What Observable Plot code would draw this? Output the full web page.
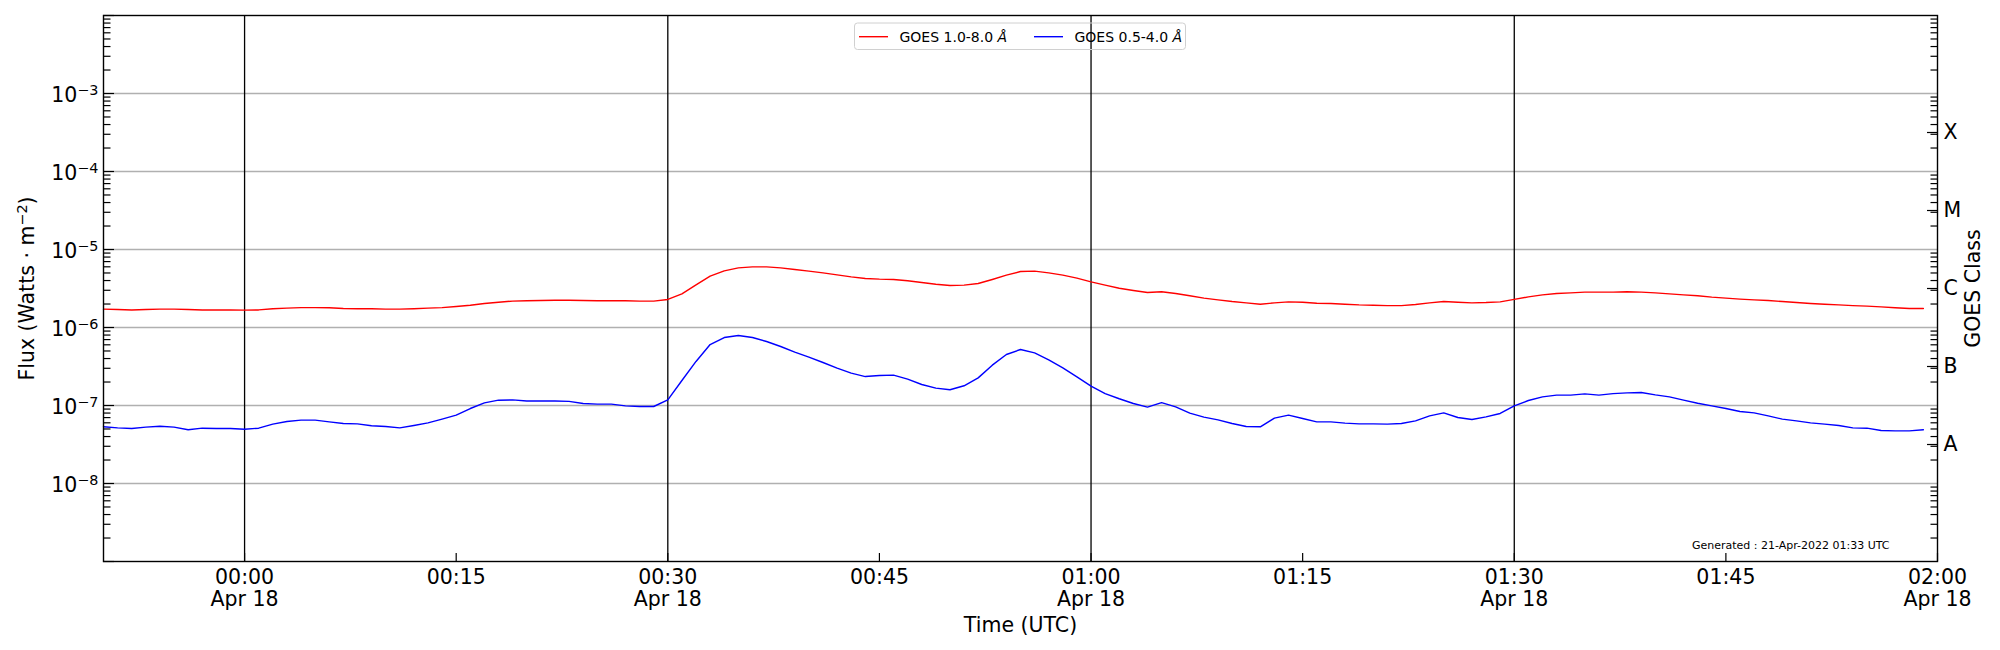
<!DOCTYPE html>
<html>
<head>
<meta charset="utf-8">
<script src="https://cdn.jsdelivr.net/npm/d3@7"></script>
<script src="https://cdn.jsdelivr.net/npm/@observablehq/plot@0.6"></script>
<style>
  html, body { margin: 0; padding: 0; background: #fff; }
  #wrap { width: 2000px; height: 650px; }
</style>
</head>
<body>
<div id="wrap"></div>
<script>
// ---------------- data ----------------
const startTime = "2022-04-17T23:50:00Z";   // first sample
const stepMinutes = 1;                       // 1-minute cadence

// GOES 1.0-8.0 Å (W/m^2)
const fluxLong = [
  1.72e-6,1.70e-6,1.68e-6,1.70e-6,1.72e-6,1.72e-6,1.70e-6,1.68e-6,1.68e-6,1.68e-6,
  1.67e-6,1.68e-6,1.74e-6,1.77e-6,1.80e-6,1.80e-6,1.79e-6,1.75e-6,1.74e-6,1.74e-6,
  1.72e-6,1.72e-6,1.74e-6,1.77e-6,1.80e-6,1.86e-6,1.93e-6,2.03e-6,2.11e-6,2.18e-6,
  2.20e-6,2.22e-6,2.24e-6,2.24e-6,2.22e-6,2.20e-6,2.20e-6,2.20e-6,2.18e-6,2.18e-6,
  2.29e-6,2.70e-6,3.52e-6,4.55e-6,5.33e-6,5.82e-6,5.99e-6,5.99e-6,5.82e-6,5.54e-6,
  5.28e-6,5.02e-6,4.73e-6,4.46e-6,4.25e-6,4.17e-6,4.13e-6,3.97e-6,3.78e-6,3.59e-6,
  3.46e-6,3.49e-6,3.67e-6,4.13e-6,4.69e-6,5.22e-6,5.28e-6,5.02e-6,4.69e-6,4.29e-6,
  3.85e-6,3.49e-6,3.19e-6,2.98e-6,2.81e-6,2.87e-6,2.73e-6,2.55e-6,2.38e-6,2.26e-6,
  2.15e-6,2.07e-6,1.99e-6,2.07e-6,2.13e-6,2.11e-6,2.05e-6,2.03e-6,1.99e-6,1.95e-6,
  1.93e-6,1.91e-6,1.91e-6,1.97e-6,2.07e-6,2.15e-6,2.11e-6,2.07e-6,2.09e-6,2.13e-6,
  2.29e-6,2.47e-6,2.62e-6,2.73e-6,2.78e-6,2.84e-6,2.84e-6,2.84e-6,2.87e-6,2.84e-6,
  2.78e-6,2.70e-6,2.62e-6,2.55e-6,2.45e-6,2.38e-6,2.31e-6,2.26e-6,2.22e-6,2.15e-6,
  2.09e-6,2.03e-6,1.99e-6,1.95e-6,1.91e-6,1.88e-6,1.84e-6,1.79e-6,1.75e-6,1.75e-6
];

// GOES 0.5-4.0 Å (W/m^2)
const fluxShort = [
  5.33e-8,5.17e-8,5.07e-8,5.28e-8,5.43e-8,5.28e-8,4.88e-8,5.12e-8,5.07e-8,5.07e-8,
  4.97e-8,5.12e-8,5.77e-8,6.23e-8,6.49e-8,6.49e-8,6.17e-8,5.88e-8,5.82e-8,5.49e-8,
  5.38e-8,5.17e-8,5.54e-8,5.99e-8,6.68e-8,7.52e-8,9.15e-8,1.08e-7,1.17e-7,1.18e-7,
  1.14e-7,1.14e-7,1.14e-7,1.13e-7,1.06e-7,1.04e-7,1.04e-7,9.90e-8,9.71e-8,9.71e-8,
  1.18e-7,2.09e-7,3.67e-7,6.05e-7,7.44e-7,7.90e-7,7.44e-7,6.61e-7,5.71e-7,4.83e-7,
  4.17e-7,3.56e-7,3.01e-7,2.60e-7,2.35e-7,2.42e-7,2.45e-7,2.18e-7,1.86e-7,1.67e-7,
  1.59e-7,1.79e-7,2.26e-7,3.29e-7,4.51e-7,5.22e-7,4.73e-7,3.85e-7,3.04e-7,2.33e-7,
  1.77e-7,1.42e-7,1.22e-7,1.06e-7,9.52e-8,1.09e-7,9.61e-8,7.97e-8,7.09e-8,6.55e-8,
  5.88e-8,5.38e-8,5.33e-8,6.88e-8,7.52e-8,6.81e-8,6.17e-8,6.17e-8,5.94e-8,5.82e-8,
  5.82e-8,5.77e-8,5.88e-8,6.36e-8,7.37e-8,8.05e-8,7.02e-8,6.61e-8,7.15e-8,7.90e-8,
  9.90e-8,1.16e-7,1.29e-7,1.36e-7,1.36e-7,1.41e-7,1.36e-7,1.42e-7,1.45e-7,1.47e-7,
  1.37e-7,1.29e-7,1.17e-7,1.07e-7,9.90e-8,9.15e-8,8.38e-8,8.05e-8,7.37e-8,6.68e-8,
  6.36e-8,5.99e-8,5.77e-8,5.54e-8,5.17e-8,5.12e-8,4.78e-8,4.73e-8,4.73e-8,4.88e-8
];

const seriesNames = ["GOES 1.0-8.0 ", "GOES 0.5-4.0 "];
const seriesColors = ["red", "blue"];

const xDomain = ["2022-04-17T23:50:00Z", "2022-04-18T02:00:00Z"];
const xTicks = ["2022-04-18T00:00:00Z","2022-04-18T00:15:00Z","2022-04-18T00:30:00Z",
                "2022-04-18T00:45:00Z","2022-04-18T01:00:00Z","2022-04-18T01:15:00Z",
                "2022-04-18T01:30:00Z","2022-04-18T01:45:00Z","2022-04-18T02:00:00Z"];
const xTickLabels = ["00:00\nApr 18","00:15","00:30\nApr 18","00:45","01:00\nApr 18",
                     "01:15","01:30\nApr 18","01:45","02:00\nApr 18"];
const vLines = ["2022-04-18T00:00:00Z","2022-04-18T00:30:00Z",
                "2022-04-18T01:00:00Z","2022-04-18T01:30:00Z"];

const yDomain = [1e-9, 1e-2];
const yDecades = [1e-9,1e-8,1e-7,1e-6,1e-5,1e-4,1e-3,1e-2];
const yLabeled = [1e-8,1e-7,1e-6,1e-5,1e-4,1e-3];
const yTickLabels = ["10^{−8}","10^{−7}","10^{−6}","10^{−5}","10^{−4}","10^{−3}"];
const classCenters = [3.162e-8, 3.162e-7, 3.162e-6, 3.162e-5, 3.162e-4];
const classLabels = ["A","B","C","M","X"];
const generatedText = "Generated : 21-Apr-2022 01:33 UTC";

// ---------------- build ----------------
const t0 = Date.parse(startTime);
const longRows = fluxLong.map((v, i) => ({t: new Date(t0 + i * stepMinutes * 60000), v}));
const shortRows = fluxShort.map((v, i) => ({t: new Date(t0 + i * stepMinutes * 60000), v}));
const classRows = classCenters.map((v, i) => ({v, label: classLabels[i]}));
const yLabelRows = yLabeled.map((v, i) => ({v, label: yTickLabels[i]}));

const yMinor = [];
for (let k = -9; k < -2; k++) for (let m = 2; m <= 9; m++) yMinor.push(m * Math.pow(10, k));

const xLabelMap = new Map(xTicks.map((d, i) => [+new Date(d), xTickLabels[i]]));

const FS = 20.5;
const plot = Plot.plot({
  width: 2000,
  height: 650,
  marginLeft: 103,
  marginRight: 63,
  marginTop: 15,
  marginBottom: 89,
  style: {fontFamily: "'DejaVu Sans', sans-serif", fontSize: "20px", background: "white", color: "black"},
  x: {type: "utc", domain: xDomain.map(d => new Date(d))},
  y: {type: "log", domain: yDomain},
  marks: [
    Plot.ruleY(yLabeled, {stroke: "#b0b0b0", strokeWidth: 1.3}),
    Plot.ruleX(vLines.map(d => new Date(d)), {stroke: "black", strokeWidth: 1.3}),
    Plot.line(longRows, {x: "t", y: "v", stroke: seriesColors[0], strokeWidth: 1.4}),
    Plot.line(shortRows, {x: "t", y: "v", stroke: seriesColors[1], strokeWidth: 1.4}),
    // left axis: inward ticks
    Plot.axisY({ticks: yDecades, anchor: "left", tickSize: 11, insetLeft: 11, tickFormat: () => "", label: null, stroke: "black", strokeWidth: 1.2}),
    Plot.axisY({ticks: yMinor, anchor: "left", tickSize: 7.5, insetLeft: 7.5, tickFormat: () => "", label: null, stroke: "black", strokeWidth: 1.2}),
    Plot.text(yLabelRows, {y: "v", text: "label", frameAnchor: "left", dx: -5, dy: 2, textAnchor: "end", fontSize: FS}),
    // right axis: GOES class
    Plot.axisY({ticks: yMinor, anchor: "right", tickSize: 7.5, insetRight: 7.5, tickFormat: () => "", label: null, stroke: "black", strokeWidth: 1.2}),
    Plot.axisY({ticks: classCenters, anchor: "right", tickSize: 11, insetRight: 11, tickFormat: () => "", label: null, stroke: "black", strokeWidth: 1.2}),
    Plot.text(classRows, {y: "v", text: "label", frameAnchor: "right", dx: 6, textAnchor: "start", fontSize: FS}),
    // bottom axis
    Plot.axisX({ticks: xTicks.map(d => new Date(d)), anchor: "bottom", tickSize: 8, insetBottom: 8, tickFormat: () => "", label: null, stroke: "black", strokeWidth: 1.2}),
    Plot.axisX({ticks: xTicks.map(d => new Date(d)), anchor: "bottom", tickSize: 0, tickPadding: 6, fontSize: FS, lineHeight: 1.11,
                tickFormat: d => xLabelMap.get(+d), label: null}),
    // axis titles
    Plot.text(["Time (UTC)"], {text: d => d, frameAnchor: "bottom", dy: 64, fontSize: FS, textAnchor: "middle", lineAnchor: "middle"}),
    Plot.text(["Flux (Watts · m^{−2})"], {text: d => d, frameAnchor: "left", dx: -76, rotate: -90, fontSize: FS, textAnchor: "middle", lineAnchor: "middle"}),
    Plot.text(["GOES Class"], {text: d => d, frameAnchor: "right", dx: 36, rotate: -90, fontSize: FS, textAnchor: "middle", lineAnchor: "middle"}),
    Plot.text([generatedText], {text: d => d, frameAnchor: "bottom-right", dx: -48, dy: -13, textAnchor: "end", lineAnchor: "bottom", fontSize: 11}),
    Plot.frame({stroke: "black", strokeWidth: 1.4})
  ]
});

document.getElementById("wrap").appendChild(plot);

// mathtext-like superscripts
const NS = "http://www.w3.org/2000/svg";
plot.querySelectorAll("text").forEach(t => {
  const s = t.textContent;
  const m = s.match(/^(.*)\^\{(.*)\}(.*)$/);
  if (!m) return;
  while (t.firstChild) t.removeChild(t.firstChild);
  const a = document.createElementNS(NS, "tspan"); a.textContent = m[1];
  a.setAttribute("font-size", FS); t.appendChild(a);
  const b = document.createElementNS(NS, "tspan"); b.textContent = m[2];
  b.setAttribute("font-size", FS * 0.7); b.setAttribute("dy", -FS * 0.36); t.appendChild(b);
  if (m[3]) {
    const c = document.createElementNS(NS, "tspan"); c.textContent = m[3];
    c.setAttribute("font-size", FS); c.setAttribute("dy", FS * 0.36); t.appendChild(c);
  }
});

// legend (inside the axes, top centre)
const lg = d3.select(plot).append("g")
  .attr("font-family", "'DejaVu Sans', sans-serif").attr("font-size", 14).attr("text-anchor", "start");
lg.append("rect").attr("x", 854.5).attr("y", 23).attr("width", 331).attr("height", 26.5)
  .attr("rx", 3).attr("fill", "none").attr("stroke", "#d0d0d0").attr("stroke-width", 1);
const legendX = [859, 1034];
seriesNames.forEach((name, i) => {
  lg.append("line").attr("x1", legendX[i]).attr("x2", legendX[i] + 29).attr("y1", 36.7).attr("y2", 36.7)
    .attr("stroke", seriesColors[i]).attr("stroke-width", 1.4);
  const tx = lg.append("text").attr("x", legendX[i] + 40.5).attr("y", 41.7)
    .attr("fill", "black").attr("text-anchor", "start");
  tx.append("tspan").text(name);
  tx.append("tspan").attr("font-style", "italic").text("Å");
});
</script>
</body>
</html>
